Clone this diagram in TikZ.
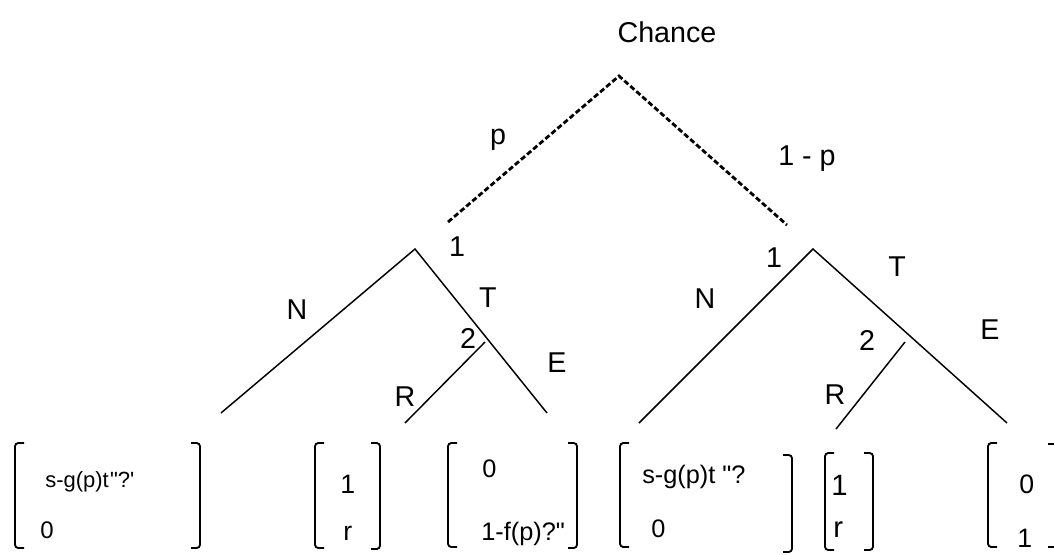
\documentclass[tikz,border=0pt]{standalone}
\usepackage{fontspec}
\newfontfamily\arial{Liberation Sans}
\tikzstyle{lbl} = [inner sep=0pt, font=\arial\fontsize{21.5}{26}\selectfont]
\tikzstyle{pay} = [inner sep=0pt, anchor=base west, font=\arial\fontsize{19}{23}\selectfont]
\tikzstyle{branch} = [line width=1.1pt]
\tikzstyle{chancemove} = [line width=2.1pt, dash pattern=on 4pt off 2pt]
\tikzstyle{brk} = [line width=1.4pt, rounded corners=2.5pt]

\begin{document}
\begin{tikzpicture}[x=0.75pt, y=-0.75pt]
    \useasboundingbox (0,0) rectangle (1054,554);

    % tree points
    \coordinate (root) at (619,76);
    \coordinate (endL) at (448,222);
    \coordinate (endR) at (787,225);
    \coordinate (oneL) at (415,249);
    \coordinate (oneR) at (813,249);
    \coordinate (twoL) at (485,342);
    \coordinate (twoR) at (905,342);
    \coordinate (leafNL) at (221,413);
    \coordinate (leafEL) at (547,413);
    \coordinate (leafRL) at (405,423);
    \coordinate (leafNR) at (639,423);
    \coordinate (leafER) at (1007,423);
    \coordinate (leafRR) at (836,429);

    % chance move
    \draw [chancemove] (endL) -- (root) -- (endR);

    % player 1 and player 2 moves
    \draw [branch] (leafNL) -- (oneL) -- (leafEL);
    \draw [branch] (twoL) -- (leafRL);
    \draw [branch] (leafNR) -- (oneR) -- (leafER);
    \draw [branch] (twoR) -- (leafRR);

    % labels
    \node (chancelbl) [lbl, anchor=base] at (667,42) {Chance};
    \node (plbl) [lbl] at (498,140) {p};
    \node (qlbl) [lbl, anchor=base west] at (778,165) {1 - p};
    \node (oneLlbl) [lbl] at (457,247) {1};
    \node (nLlbl) [lbl] at (297,310) {N};
    \node (tLlbl) [lbl] at (488,298) {T};
    \node (eLlbl) [lbl] at (557,363) {E};
    \node (twoLlbl) [lbl] at (468,338) {2};
    \node (rLlbl) [lbl] at (405,397) {R};
    \node (oneRlbl) [lbl] at (774,258) {1};
    \node (nRlbl) [lbl] at (705,299) {N};
    \node (tRlbl) [lbl] at (897,267) {T};
    \node (eRlbl) [lbl] at (990,330) {E};
    \node (twoRlbl) [lbl] at (867,340) {2};
    \node (rRlbl) [lbl] at (835,395) {R};

    % payoff vectors
    \foreach \x/\t/\b in {15/443/548, 315/443/548, 448/443/547, 620/443/547, 825/453/550, 988/443/547}
        \draw [brk] (\x+9,\t) -- (\x,\t) -- (\x,\b) -- (\x+9,\b);
    \foreach \x/\t/\b in {200/443/548, 380/443/549, 577/443/548, 792/455/552, 873/453/550, 1057/444/547}
        \draw [brk] (\x-9,\t) -- (\x,\t) -- (\x,\b) -- (\x-9,\b);

    \node (payNLa) [pay, font=\arial\fontsize{16.5}{20}\selectfont] at (45,487) {s-g(p)t\kern1pt"?'};
    \node (payNLb) [pay, font=\arial\fontsize{18}{22}\selectfont] at (40,538) {0};
    \node (payRLa) [pay, font=\arial\fontsize{20}{24}\selectfont] at (340,493) {1};
    \node (payRLb) [pay, font=\arial\fontsize{20}{24}\selectfont] at (343,540) {r};
    \node (payELa) [pay] at (482,477) {0};
    \node (payELb) [pay] at (481,540) {1-f(p)?"};
    \node (payNRa) [pay] at (642,483) {s-g(p)t "?};
    \node (payNRb) [pay] at (651,537) {0};
    \node (payRRa) [pay, font=\arial\fontsize{22}{26}\selectfont] at (831,495) {1};
    \node (payRRb) [pay, font=\arial\fontsize{22}{26}\selectfont] at (833,537) {r};
    \node (payERa) [pay, font=\arial\fontsize{20}{24}\selectfont] at (1019,493) {0};
    \node (payERb) [pay, font=\arial\fontsize{20}{24}\selectfont] at (1017,547) {1};
\end{tikzpicture}
\end{document}
